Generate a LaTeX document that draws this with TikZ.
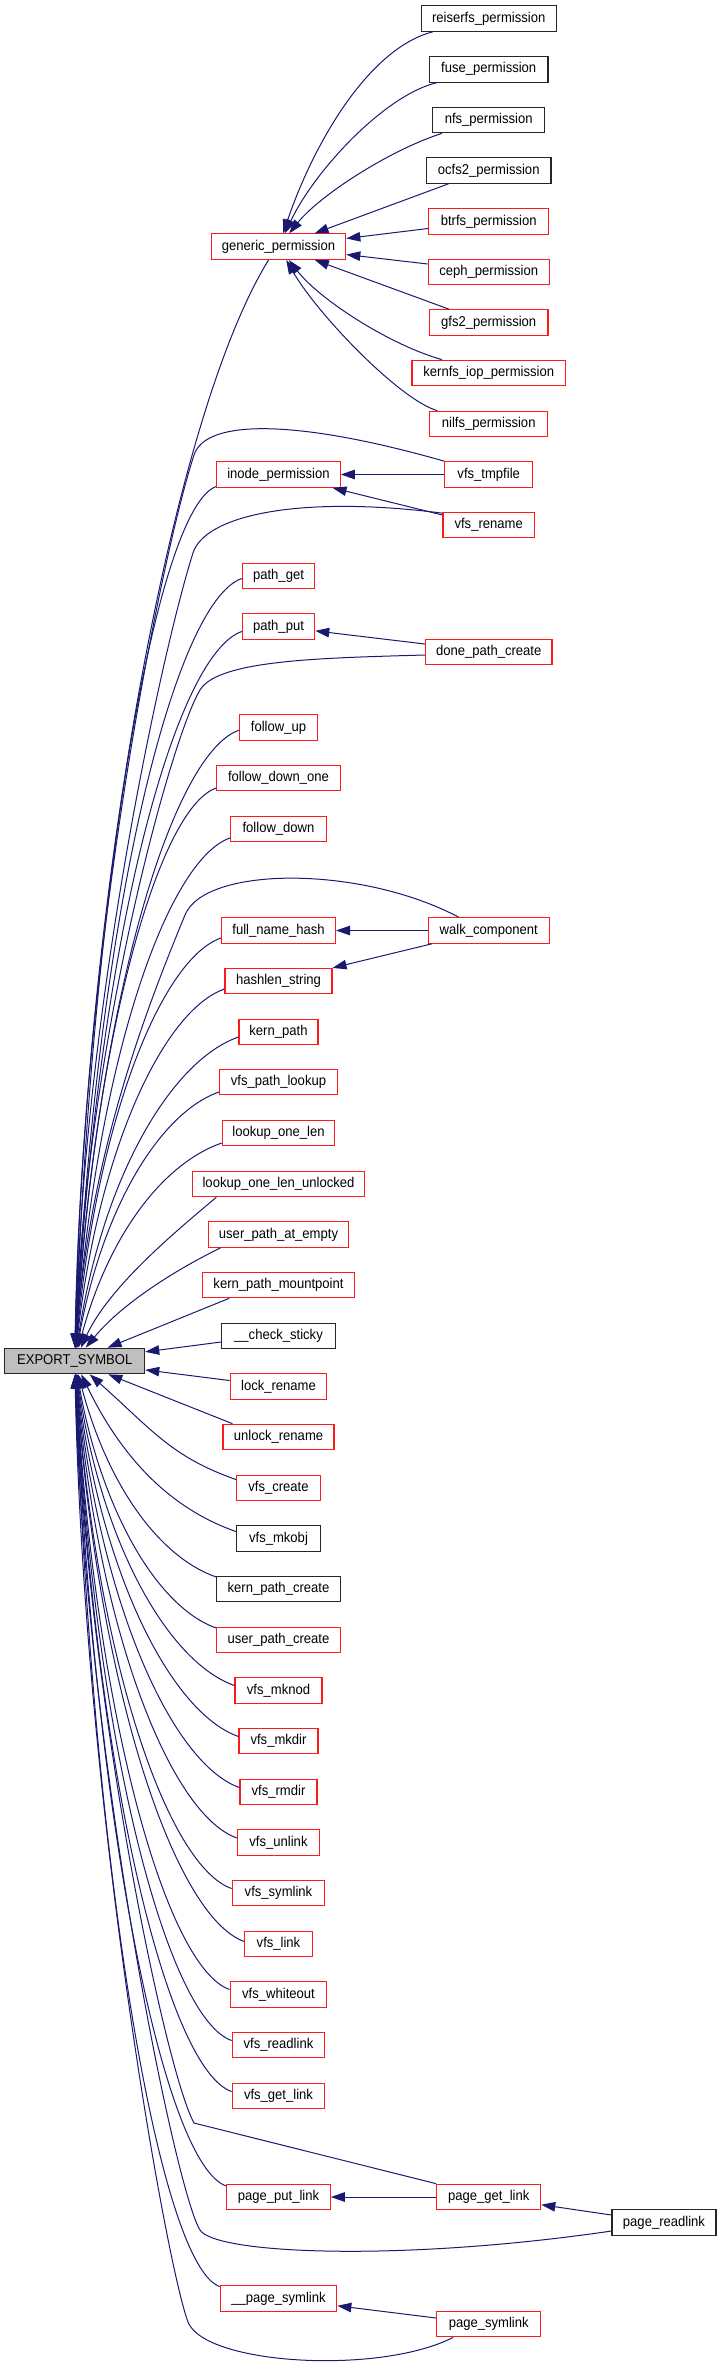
\documentclass[tikz,border=0pt]{standalone}
\usepackage{fontspec}
\setmainfont{Liberation Sans}[FakeStretch=0.92]
\usetikzlibrary{arrows.meta,calc}
\definecolor{edgeblue}{HTML}{191970}
\definecolor{boxred}{HTML}{FF1A1A}
\definecolor{esgray}{HTML}{BFBFBF}
\tikzset{
 box/.style={draw, line width=1.1pt, fill=white, minimum height=25.6pt, inner xsep=4pt, inner ysep=0pt, font=\fontsize{14.2}{16}\selectfont, text=black, anchor=center},
 rn/.style={box, draw=boxred},
 bn/.style={box, draw=black!85},
 esn/.style={box, draw=black!85, fill=esgray},
 edge/.style={draw=edgeblue, line width=1pt, {Triangle[length=14pt,width=9.5pt]}-},
}
\newcommand\esedge[2]{%
 \draw[edge] let \p1=(ES.center), \p2=([yshift=#2]#1.west), \n1={abs(\y2-\y1)}, \n2={0.13+(70/\n1)^2}, \n3={(\y2-\y1)/\n1} in
 (ES) .. controls ({\x1+\n2*(\x2-\x1)}, {\y1+0.58*(\y2-\y1)}) and ({\x2-0.4*(\x2-\x1)}, {\y2-\n3*0.14*(\x2-\x1)}) .. (\p2);}
\begin{document}
\begin{tikzpicture}[x=1pt,y=-1pt]
\useasboundingbox (0,0) rectangle (719,2368);
% right column
\node[bn, minimum width=135pt] (reiserfs) at (488.7,18.5) {reiserfs\_permission};
\node[bn, minimum width=118.5pt] (fuse) at (488.7,69.3) {fuse\_permission};
\node[bn, minimum width=111.6pt] (nfs) at (488.7,120) {nfs\_permission};
\node[bn, minimum width=124.5pt] (ocfs) at (488.7,170.5) {ocfs2\_permission};
\node[rn, minimum width=120pt] (btrfs) at (488.7,221.5) {btrfs\_permission};
\node[rn, minimum width=121pt] (ceph) at (488.7,272) {ceph\_permission};
\node[rn, minimum width=118.5pt] (gfs) at (488.7,322.5) {gfs2\_permission};
\node[rn, minimum width=153.5pt] (kernfs) at (488.7,373) {kernfs\_iop\_permission};
\node[rn, minimum width=117.6pt] (nilfs) at (488.7,424) {nilfs\_permission};
\node[rn, minimum width=88pt] (tmpf) at (488.7,474.5) {vfs\_tmpfile};
\node[rn, minimum width=91.5pt] (vren) at (488.7,525) {vfs\_rename};
\node[rn, minimum width=126.5pt] (dpc) at (488.7,652) {done\_path\_create};
\node[rn, minimum width=121pt] (walk) at (488.7,930.5) {walk\_component};
\node[rn, minimum width=104pt] (pgl) at (488.7,2197) {page\_get\_link};
\node[rn, minimum width=104pt] (psym) at (488.7,2324) {page\_symlink};
\node[bn, minimum width=104pt] (prl) at (664,2222.5) {page\_readlink};
% middle column
\node[rn, minimum width=134.5pt] (GP) at (278.5,246.7) {generic\_permission};
\node[rn, minimum width=123.5pt] (ip) at (278.5,474.5) {inode\_permission};
\node[rn, minimum width=72.4pt] (pget) at (278.5,576) {path\_get};
\node[rn, minimum width=72.4pt] (pput) at (278.5,626.5) {path\_put};
\node[rn, minimum width=78pt] (fup) at (278.5,727.7) {follow\_up};
\node[rn, minimum width=123.5pt] (fdo) at (278.5,778) {follow\_down\_one};
\node[rn, minimum width=96pt] (fdn) at (278.5,829) {follow\_down};
\node[rn, minimum width=114pt] (fnh) at (278.5,930.5) {full\_name\_hash};
\node[rn, minimum width=107pt] (hls) at (278.5,981) {hashlen\_string};
\node[rn, minimum width=79pt] (kp) at (278.5,1032) {kern\_path};
\node[rn, minimum width=118pt] (vpl) at (278.5,1082) {vfs\_path\_lookup};
\node[rn, minimum width=112.5pt] (lol) at (278.5,1133) {lookup\_one\_len};
\node[rn, minimum width=171.5pt] (lolu) at (278.5,1184) {lookup\_one\_len\_unlocked};
\node[rn, minimum width=140.6pt] (upae) at (278.5,1234.5) {user\_path\_at\_empty};
\node[rn, minimum width=151.7pt] (kpm) at (278.5,1285) {kern\_path\_mountpoint};
\node[bn, minimum width=114pt] (cs) at (278.5,1336) {\_\_check\_sticky};
\node[rn, minimum width=96.8pt] (lr) at (278.5,1386.5) {lock\_rename};
\node[rn, minimum width=111pt] (ur) at (278.5,1437) {unlock\_rename};
\node[rn, minimum width=84pt] (vc) at (278.5,1488) {vfs\_create};
\node[bn, minimum width=84pt] (vmo) at (278.5,1538.5) {vfs\_mkobj};
\node[bn, minimum width=123.5pt] (kpc) at (278.5,1589) {kern\_path\_create};
\node[rn, minimum width=123.5pt] (upc) at (278.5,1640) {user\_path\_create};
\node[rn, minimum width=87pt] (vmn) at (278.5,1690.5) {vfs\_mknod};
\node[rn, minimum width=79pt] (vmd) at (278.5,1741) {vfs\_mkdir};
\node[rn, minimum width=77pt] (vrd) at (278.5,1792) {vfs\_rmdir};
\node[rn, minimum width=82pt] (vul) at (278.5,1842.5) {vfs\_unlink};
\node[rn, minimum width=92.7pt] (vsl) at (278.5,1893) {vfs\_symlink};
\node[rn, minimum width=67.3pt] (vln) at (278.5,1944) {vfs\_link};
\node[rn, minimum width=96.8pt] (vwo) at (278.5,1994.5) {vfs\_whiteout};
\node[rn, minimum width=92.7pt] (vrl) at (278.5,2045) {vfs\_readlink};
\node[rn, minimum width=92.7pt] (vgl) at (278.5,2096) {vfs\_get\_link};
\node[rn, minimum width=103.5pt] (ppl) at (278.5,2197) {page\_put\_link};
\node[rn, minimum width=116.6pt] (psl) at (278.5,2298.5) {\_\_page\_symlink};
% left
\node[esn, minimum width=140pt] (ES) at (74.7,1361) {EXPORT\_SYMBOL};

% generic_permission callers
\draw[edge] (GP) .. controls (315,140) and (370,48) .. ([xshift=12pt]reiserfs.south west);
\draw[edge] (GP) .. controls (315,170) and (385,95) .. ([xshift=8pt]fuse.south west);
\draw[edge] (GP) .. controls (320,195) and (390,150) .. ([xshift=9.6pt]nfs.south west);
\draw[edge] (GP) -- ([xshift=22.5pt]ocfs.south west);
\draw[edge] (GP) -- ([yshift=-7pt]btrfs.west);
\draw[edge] (GP) -- ([yshift=8pt]ceph.west);
\draw[edge] (GP) -- ([xshift=20pt]gfs.north west);
\draw[edge] (GP) .. controls (320,300) and (390,345) .. ([xshift=30.6pt]kernfs.north west);
\draw[edge] (GP) .. controls (318,315) and (400,400) .. ([xshift=8pt]nilfs.north west);
% other internal edges
\draw[edge] (ip) -- (tmpf);
\draw[edge] (ip) -- ([yshift=10pt]vren.west);
\draw[edge] (pput) -- ([yshift=8pt]dpc.west);
\draw[edge] (fnh) -- (walk);
\draw[edge] (hls) -- ([xshift=4pt]walk.south west);
\draw[edge] (ppl) -- (pgl);
\draw[edge] (pgl) -- ([yshift=7.5pt]prl.west);
\draw[edge] (psl) -- ([yshift=6pt]psym.west);

% EXPORT_SYMBOL callers
\draw[edge] (ES) .. controls (85,900) and (170,420) .. ([xshift=-10pt]GP.south);
\draw[edge] (ES) .. controls (82,950) and (160,560) .. (194,455) .. controls (206,418) and (300,420) .. (tmpf.north west);
\draw[edge] (ES) .. controls (84,1000) and (165,640) .. (193,553) .. controls (205,515) and (300,495) .. ([yshift=-1.5pt]vren.north west);
\draw[edge] (ES) .. controls (86,1050) and (170,740) .. (200,690) .. controls (218,660) and (320,658) .. ([yshift=-3pt]dpc.west);
\draw[edge] (ES) .. controls (90,1150) and (150,1000) .. (185,915) .. controls (205,866) and (360,865) .. ([xshift=31pt]walk.north west);
\draw[edge] (ES) .. controls (88,1700) and (165,2070) .. (194,2123) -- (pgl.north west);
\draw[edge] (ES) .. controls (85,1750) and (175,2190) .. (200,2230) .. controls (215,2254) and (400,2262) .. ([yshift=-8.5pt]prl.west);
\draw[edge] (ES) .. controls (84,1800) and (165,2260) .. (188,2322) .. controls (205,2365) and (380,2375) .. ([xshift=17pt]psym.south west);
\esedge{ip}{-12pt}
\esedge{pget}{-2.5pt}
\esedge{pput}{-5pt}
\esedge{fup}{-2.5pt}
\esedge{fdo}{-10pt}
\esedge{fdn}{-9pt}
\esedge{fnh}{-7.5pt}
\esedge{hls}{-8pt}
\esedge{kp}{-5pt}
\esedge{vpl}{-10pt}
\esedge{lol}{-10pt}
\draw[edge] (ES) .. controls (110,1285) and (180,1228) .. ([xshift=24pt]lolu.south west);
\draw[edge] (ES) .. controls (125,1300) and (185,1265) .. ([xshift=13pt]upae.south west);
\draw[edge] (ES) -- ([xshift=27pt]kpm.south west);
\draw[edge] (ES) -- ([yshift=-6pt]cs.west);
\draw[edge] (ES) -- ([yshift=6pt]lr.west);
\draw[edge] (ES) -- ([xshift=10pt]ur.north west);
\esedge{vc}{8.5pt}
\esedge{vmo}{7pt}
\esedge{kpc}{12pt}
\esedge{upc}{12pt}
\esedge{vmn}{5pt}
\esedge{vmd}{4.5pt}
\esedge{vrd}{4.5pt}
\esedge{vul}{4.5pt}
\esedge{vsl}{4.5pt}
\esedge{vln}{2.5pt}
\esedge{vwo}{5pt}
\esedge{vrl}{4.5pt}
\esedge{vgl}{4.5pt}
\esedge{ppl}{11pt}
\esedge{psl}{12pt}
\end{tikzpicture}
\end{document}
